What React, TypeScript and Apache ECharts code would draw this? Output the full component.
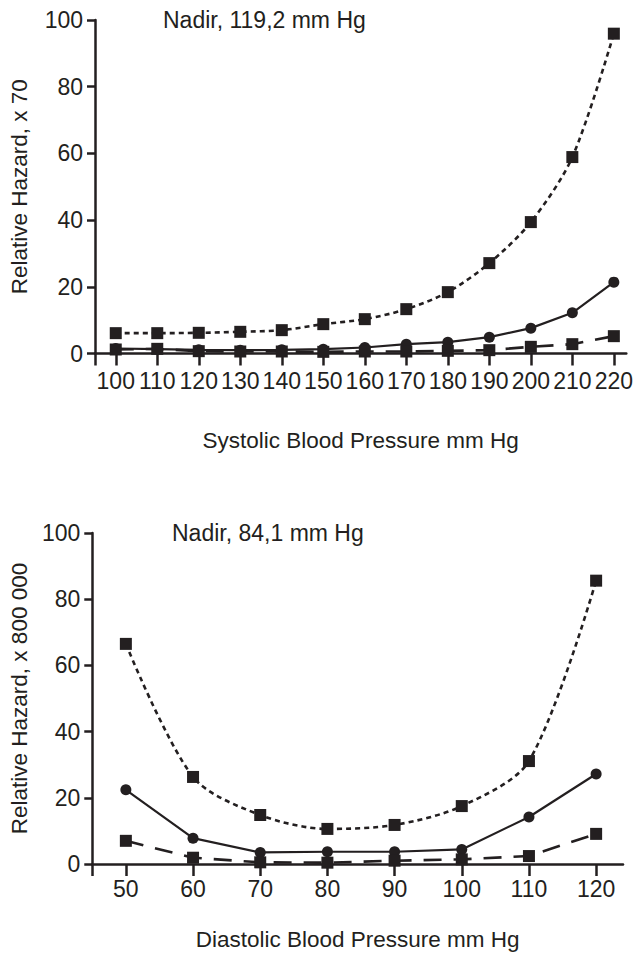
import React, { useEffect, useRef } from "react";
import * as echarts from "echarts";

const sbpTicks = [100, 110, 120, 130, 140, 150, 160, 170, 180, 190, 200, 210, 220];
const sbpUpper = [6.1, 6.1, 6.2, 6.5, 7.0, 8.8, 10.3, 13.3, 18.4, 27.1, 39.4, 58.9, 95.9];
const sbpMid = [1.5, 1.3, 1.1, 1.0, 1.1, 1.3, 1.8, 2.8, 3.4, 4.9, 7.6, 12.2, 21.4];
const sbpLower = [1.2, 1.4, 0.7, 0.6, 0.6, 0.5, 0.6, 0.6, 0.8, 1.0, 2.0, 2.8, 5.2];

const dbpTicks = [50, 60, 70, 80, 90, 100, 110, 120];
const dbpUpper = [66.5, 26.3, 14.8, 10.6, 11.8, 17.5, 31.1, 85.6];
const dbpMid = [22.4, 7.8, 3.5, 3.7, 3.7, 4.4, 14.2, 27.2];
const dbpLower = [7.0, 1.9, 0.5, 0.4, 1.0, 1.4, 2.4, 9.1];

const yTicks = [0, 20, 40, 60, 80, 100];

const INK = "#231f20";
const FONT = "'Liberation Sans', Arial, Helvetica, sans-serif";

function pairs(xs: number[], ys: number[]) {
  return xs.map((x, i) => [x, ys[i]]);
}

export default function App() {
  const ref = useRef<HTMLDivElement>(null);
  useEffect(() => {
    document.body.style.margin = "0";
    const chart = echarts.init(ref.current!, undefined, { renderer: "svg" });
    const xAxisBase = (gridIndex: number, min: number, max: number, ticks: number[], name: string, nameGap: number, labelMargin: number) => ({
      type: "value",
      gridIndex,
      min,
      max,
      name,
      nameLocation: "middle",
      nameGap,
      nameTextStyle: { fontFamily: FONT, fontSize: 22.5, color: INK },
      axisLine: { show: true, onZero: false, lineStyle: { color: INK, width: 2.5 } },
      axisTick: { show: true, length: 12, lineStyle: { color: INK, width: 2.5 }, customValues: [min, ...ticks] },
      axisLabel: { fontFamily: FONT, fontSize: 23, color: INK, margin: labelMargin, customValues: ticks },
      splitLine: { show: false },
    });
    const yAxisBase = (gridIndex: number, name: string, nameGap: number) => ({
      type: "value",
      gridIndex,
      min: 0,
      max: 100,
      interval: 20,
      name,
      nameLocation: "middle",
      nameGap,
      nameTextStyle: { fontFamily: FONT, fontSize: 22.5, color: INK },
      axisLine: { show: true, onZero: false, lineStyle: { color: INK, width: 2.5 } },
      axisTick: { show: true, length: 8, lineStyle: { color: INK, width: 2.5 } },
      axisLabel: { fontFamily: FONT, fontSize: 23, color: INK, margin: 12, customValues: yTicks },
      splitLine: { show: false },
    });
    const lineSeries = (idx: number, data: number[][], kind: "solid" | "dashed" | "dotted") => ({
      type: "line",
      xAxisIndex: idx,
      yAxisIndex: idx,
      data,
      clip: false,
      smooth: kind === "dotted" ? 0.3 : false,
      symbol: kind === "solid" ? "circle" : "rect",
      symbolSize: kind === "solid" ? 11 : 12,
      itemStyle: { color: INK },
      lineStyle: {
        color: INK,
        width: kind === "solid" ? 2.2 : 2.6,
        type: kind === "solid" ? "solid" : kind === "dashed" ? [18, 12] : [5, 4],
      },
    });
    chart.setOption({
      animation: false,
      backgroundColor: "#ffffff",
      grid: [
        { left: 92.7, top: 20, width: 533.6, height: 333.5 },
        { left: 88.3, top: 533, width: 534.7, height: 331 },
      ],
      xAxis: [
        xAxisBase(0, 95, 223, sbpTicks, "Systolic Blood Pressure mm Hg", 75, 16),
        xAxisBase(1, 45, 124, dbpTicks, "Diastolic Blood Pressure mm Hg", 64, 13),
      ],
      yAxis: [
        yAxisBase(0, "Relative Hazard, x 70", 64),
        yAxisBase(1, "Relative Hazard, x 800 000", 60),
      ],
      graphic: [
        { type: "text", left: 163, top: 8, style: { text: "Nadir, 119,2 mm Hg", fontFamily: FONT, fontSize: 23, fill: INK } },
        { type: "text", left: 172, top: 521, style: { text: "Nadir, 84,1 mm Hg", fontFamily: FONT, fontSize: 23, fill: INK } },
      ],
      series: [
        lineSeries(0, pairs(sbpTicks, sbpMid), "solid"),
        lineSeries(0, pairs(sbpTicks, sbpLower), "dashed"),
        lineSeries(0, pairs(sbpTicks, sbpUpper), "dotted"),
        lineSeries(1, pairs(dbpTicks, dbpMid), "solid"),
        lineSeries(1, pairs(dbpTicks, dbpLower), "dashed"),
        lineSeries(1, pairs(dbpTicks, dbpUpper), "dotted"),
      ],
    });
    return () => chart.dispose();
  }, []);
  return <div ref={ref} style={{ position: "absolute", left: 0, top: 0, width: 638, height: 959 }} />;
}
